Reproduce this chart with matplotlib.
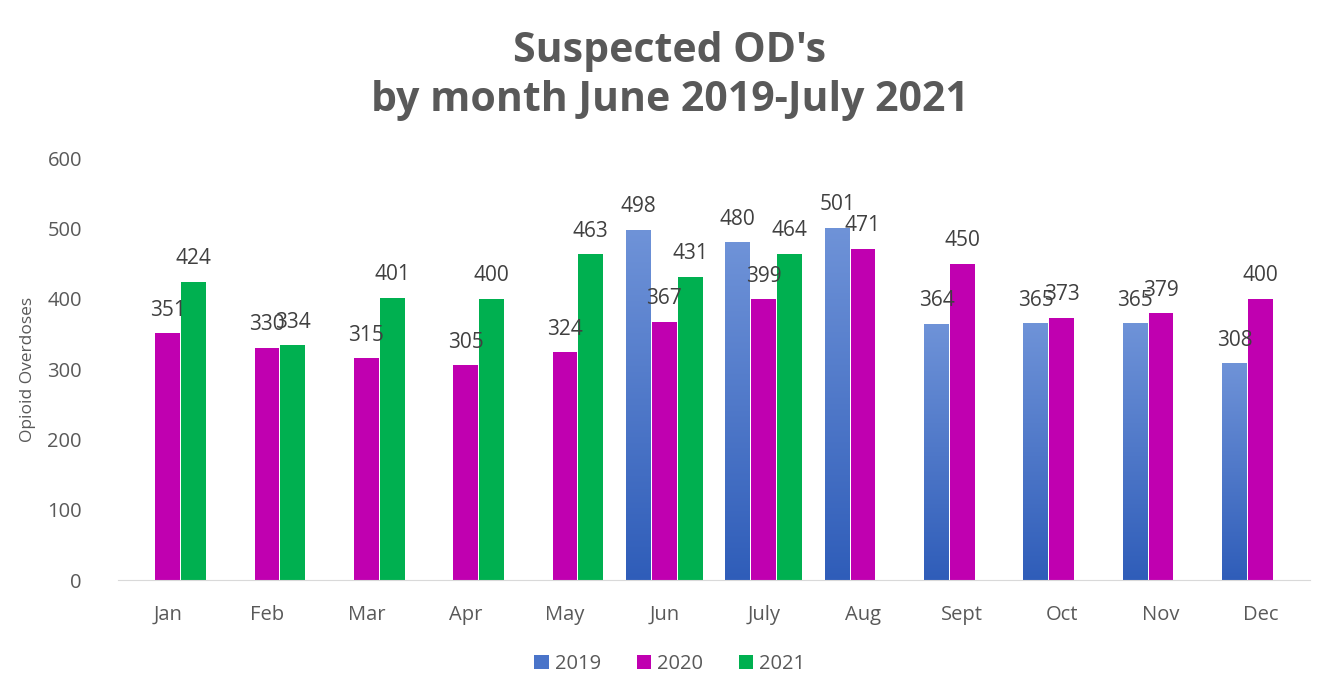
import numpy as np
import matplotlib
matplotlib.use("Agg")
import matplotlib.pyplot as plt
from matplotlib.colors import LinearSegmentedColormap
from matplotlib.patches import Patch

months = ["Jan", "Feb", "Mar", "Apr", "May", "Jun", "July", "Aug", "Sept", "Oct", "Nov", "Dec"]
y2019 = [None, None, None, None, None, 498, 480, 501, 364, 365, 365, 308]
y2020 = [351, 330, 315, 305, 324, 367, 399, 471, 450, 373, 379, 400]
y2021 = [424, 334, 401, 400, 463, 431, 464, None, None, None, None, None]

plt.rcParams['font.family'] = ['Open Sans', 'DejaVu Sans']

fig = plt.figure(figsize=(13.4, 6.99), dpi=100)
ax = fig.add_axes([118/1340, 1 - 580/699, (1310-118)/1340, (580-158)/699])

x = np.arange(len(months))
w = 0.25
off = 0.26
c2020 = "#C000B0"
c2021 = "#00B050"
label_color = "#404040"

cmap = LinearSegmentedColormap.from_list("blue", ["#2F5DB9", "#6F93D8"])
grad = np.linspace(0, 1, 256).reshape(-1, 1)

def add_labels(xs, vals):
    for xi, v in zip(xs, vals):
        ax.annotate(str(v), (xi, v), xytext=(0, 9), textcoords="offset points",
                    ha="center", va="bottom", fontsize=15, color=label_color)

# 2019 with gradient
for xi, v in zip(x, y2019):
    if v is None:
        continue
    bar = ax.bar(xi - off, v, w, color="none", edgecolor="none")[0]
    im = ax.imshow(grad, extent=[xi - off - w/2, xi - off + w/2, 0, v], origin="lower",
                   cmap=cmap, aspect="auto", zorder=2)
    im.set_clip_path(bar)
add_labels([xi - off for xi, v in zip(x, y2019) if v is not None], [v for v in y2019 if v is not None])

ax.bar(x, y2020, w, color=c2020, zorder=2)
add_labels(x, y2020)

x21 = [xi + off for xi, v in zip(x, y2021) if v is not None]
v21 = [v for v in y2021 if v is not None]
ax.bar(x21, v21, w, color=c2021, zorder=2)
add_labels(x21, v21)

ax.set_xlim(-0.5, 11.5)
ax.set_ylim(0, 600)
ax.set_yticks(range(0, 601, 100))
ax.set_xticks(x)
ax.set_xticklabels(months)
for s in ["top", "right", "left"]:
    ax.spines[s].set_visible(False)
ax.spines["bottom"].set_color("#D9D9D9")
ax.tick_params(axis="both", length=0, labelsize=14.5, labelcolor="#595959")
ax.tick_params(axis="x", pad=18)
ax.tick_params(axis="y", pad=26)
ax.set_ylabel("Opioid Overdoses", fontsize=12.5, color="#595959", labelpad=8)

fig.text(0.5, 1 - 76/699, "Suspected OD's\nby month June 2019-July 2021", ha="center", va="center",
         fontsize=29.5, fontweight="bold", color="#595959", linespacing=1.25)

handles = [Patch(facecolor="#4A74C9"), Patch(facecolor=c2020), Patch(facecolor=c2021)]
fig.legend(handles, ["2019", "2020", "2021"], loc="center", bbox_to_anchor=(0.5, 1 - 664/699),
           ncol=3, frameon=False, fontsize=14.5, handlelength=0.7, handleheight=0.7,
           handletextpad=0.3, columnspacing=1.8, labelcolor="#595959")

fig.savefig("out.png", dpi=100)
